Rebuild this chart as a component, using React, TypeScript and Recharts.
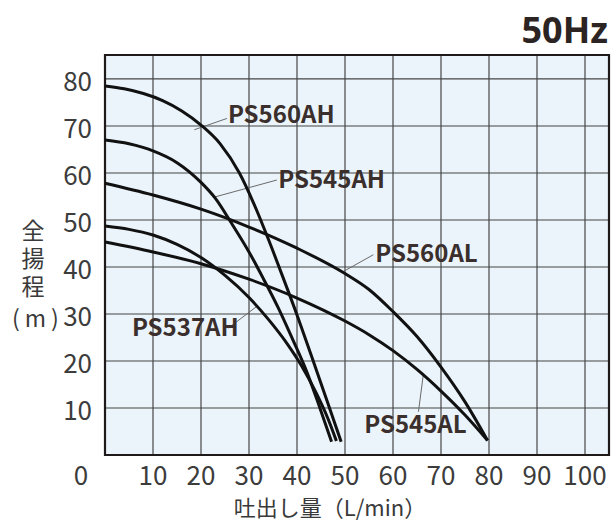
import React from 'react';
import { LineChart, Line, XAxis, YAxis, CartesianGrid, ReferenceArea, ReferenceLine, ReferenceDot } from 'recharts';

// flow (L/min) / head (m)
const ps560ahFlow = [0, 4, 8, 12, 16, 20, 24, 28, 31, 34, 37, 40, 43, 46, 49.2];
const ps560ahHead = [78.5, 77.9, 76.9, 75.4, 73.2, 70.2, 66.2, 60, 53.5, 46, 38, 29.8, 21.1, 12.3, 2.8];

const ps545ahFlow = [0, 5, 10, 15, 20, 23, 26.3, 30, 33, 36, 39, 42, 44.5, 47.2];
const ps545ahHead = [67, 66.2, 64.7, 62.2, 58, 54.6, 49.4, 43.2, 37.5, 31.5, 24.8, 17.8, 10.8, 2.8];

const ps560alFlow = [0, 10, 20, 30, 40, 50, 55, 60, 65, 70, 75, 79.7];
const ps560alHead = [57.8, 55.3, 52.3, 48.5, 44, 38.6, 35.2, 30.5, 25.2, 18.7, 11.3, 3.1];

const ps537ahFlow = [0, 5, 10, 15, 20, 25, 30, 34, 38, 41, 44, 46.5, 48.2];
const ps537ahHead = [48.7, 48, 46.8, 44.8, 42, 38.2, 33.5, 28.9, 23.6, 18.9, 13.2, 7.6, 3];

const ps545alFlow = [0, 10, 20, 30, 40, 50, 55, 60, 65, 70, 75, 79.7];
const ps545alHead = [45.3, 43.2, 40.7, 37.4, 33.4, 28.5, 25.6, 22.2, 18.2, 13.6, 8.5, 3.1];

const xTicks = [0, 10, 20, 30, 40, 50, 60, 70, 80, 90, 100];
const yTicks = [10, 20, 30, 40, 50, 60, 70, 80];

const series = [
  { name: 'PS560AH', flow: ps560ahFlow, head: ps560ahHead },
  { name: 'PS545AH', flow: ps545ahFlow, head: ps545ahHead },
  { name: 'PS560AL', flow: ps560alFlow, head: ps560alHead },
  { name: 'PS537AH', flow: ps537ahFlow, head: ps537ahHead },
  { name: 'PS545AL', flow: ps545alFlow, head: ps545alHead },
];

// label placement in chart units: text start + leader line
const labels = [
  { name: 'PS560AH', tx: 25.6, ty: 70.6, from: [18.6, 69.2], to: [25.4, 71.6] },
  { name: 'PS545AH', tx: 36.1, ty: 56.7, from: [22.9, 54.9], to: [35.8, 58.5] },
  { name: 'PS560AL', tx: 56.3, ty: 41.1, from: [49.6, 39.0], to: [55.9, 42.6] },
  { name: 'PS545AL', tx: 54.0, ty: 4.6, from: [66.3, 17.0], to: [65.3, 9.2] },
  { name: 'PS537AH', tx: 5.6, ty: 25.3, from: [25.7, 27.0], to: [31.6, 31.6] },
];

const FONT = '"Noto Sans CJK JP", "Noto Sans", sans-serif';
const INK = '#2b2422';

const XTick = (props: any) => {
  const { x, y, payload } = props;
  const dx = payload.value === 0 ? -24 : 0;
  return (
    <text x={x + dx} y={y + 30} textAnchor="middle" fontFamily={FONT} fontSize={26} fill="#3c3c3c">
      {payload.value}
    </text>
  );
};

const YTick = (props: any) => {
  const { x, y, payload } = props;
  return (
    <text x={x - 13} y={y + 12} textAnchor="end" fontFamily={FONT} fontSize={26} fill="#3c3c3c">
      {payload.value}
    </text>
  );
};

export default function App() {
  return (
    <div style={{ position: 'absolute', left: 0, top: 0, width: 614, height: 524, background: '#fff' }}>
      <LineChart width={614} height={524} margin={{ top: 55, right: 5, left: 0, bottom: 0 }}>
        <CartesianGrid stroke="#454545" strokeWidth={1.2} fill="#ebf4fa" fillOpacity={1} />
        <XAxis
          type="number"
          dataKey="x"
          domain={[0, 105]}
          ticks={xTicks}
          height={69}
          axisLine={false}
          tickLine={false}
          tickSize={0}
          tickMargin={0}
          tick={<XTick />}
          interval={0}
        />
        <YAxis
          type="number"
          domain={[0, 85.1]}
          ticks={yTicks}
          width={105}
          axisLine={false}
          tickLine={false}
          tickSize={0}
          tickMargin={0}
          tick={<YTick />}
          interval={0}
        />
        <ReferenceArea x1={0} x2={105} y1={0} y2={85.1} fill="none" stroke="#1e1a19" strokeWidth={2.2} />
        {labels.map(l => (
          <ReferenceLine
            key={'lead-' + l.name}
            segment={[{ x: l.from[0], y: l.from[1] }, { x: l.to[0], y: l.to[1] }]}
            stroke="#6a6a6a"
            strokeWidth={1}
          />
        ))}
        {series.map(s => (
          <Line
            key={s.name}
            data={s.flow.map((f, i) => ({ x: f, y: s.head[i] }))}
            dataKey="y"
            type="monotone"
            stroke="#111"
            strokeWidth={3}
            dot={false}
            activeDot={false}
            isAnimationActive={false}
          />
        ))}
        {labels.map(l => (
          <ReferenceDot
            key={'lab-' + l.name}
            x={l.tx}
            y={l.ty}
            r={1}
            shape={(p: any) => (
              <text x={p.cx} y={p.cy} fontFamily={FONT} fontWeight="bold" fontSize={24} fill="#3a2f2c">
                {l.name}
              </text>
            )}
          />
        ))}
      </LineChart>
      <svg width={614} height={524} style={{ position: 'absolute', left: 0, top: 0, pointerEvents: 'none' }}>
        <text x={608} y={43} textAnchor="end" fontFamily='"Noto Sans", sans-serif' fontWeight="bold" fontSize={36} fill={INK}>
          50Hz
        </text>
        <text
          x={33}
          y={219}
          fontFamily={FONT}
          fontSize={23}
          fill="#3a3a3a"
          letterSpacing={5}
          style={{ writingMode: 'vertical-rl' }}
        >
          全揚程
        </text>
        <text x={12} y={327} fontFamily={FONT} fontSize={23} fill="#3a3a3a" letterSpacing={5}>
          (m)
        </text>
        <text x={330} y={516} textAnchor="middle" fontFamily={FONT} fontSize={22} fill="#3a3a3a">
          吐出し量（L/min）
        </text>
      </svg>
    </div>
  );
}
